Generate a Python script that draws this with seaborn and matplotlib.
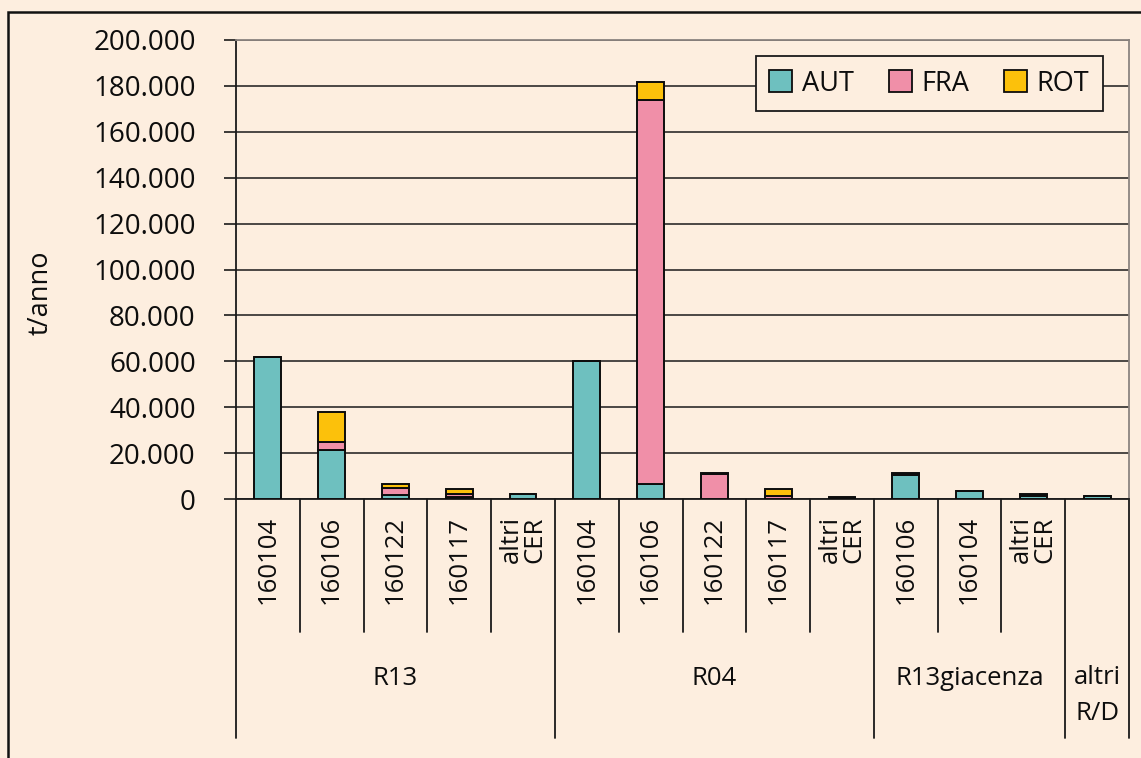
import numpy as np
import pandas as pd
import matplotlib
matplotlib.use("Agg")
import matplotlib.pyplot as plt
import seaborn as sns
from matplotlib.patches import Rectangle, Patch
from matplotlib.ticker import FuncFormatter, MultipleLocator
import matplotlib.transforms as mtransforms

# ---------------- data ----------------
groups = ["R13", "R04", "R13giacenza", "altri\nR/D"]
group_sizes = [5, 5, 3, 1]
codes = ["160104", "160106", "160122", "160117", "altri\nCER",
         "160104", "160106", "160122", "160117", "altri\nCER",
         "160106", "160104", "altri\nCER",
         ""]
series_names = ["AUT", "FRA", "ROT"]
aut = [62000, 21400, 1750, 1000, 2000, 60000, 6400, 0, 0, 300, 10500, 3600, 1400, 1300]
fra = [0, 3600, 2900, 1300, 0, 0, 167500, 10900, 1400, 200, 500, 0, 300, 0]
rot = [0, 13000, 1750, 1900, 0, 0, 7800, 600, 2800, 200, 400, 0, 300, 0]
colors = ["#6EC0BF", "#F08FA8", "#FCC10B"]

BG = "#FDEEDF"
W, H = 1141, 758
INK = "#0d0d0d"

sns.set_theme(style="white")
plt.rcParams['font.family'] = ['Open Sans', 'DejaVu Sans']
plt.rcParams['text.color'] = INK

n = len(codes)
df = pd.DataFrame({"pos": np.arange(n), "AUT": aut, "FRA": fra, "ROT": rot})
aut_a = np.array(aut, dtype=float)
fra_a = np.array(fra, dtype=float)
rot_a = np.array(rot, dtype=float)
bottoms = [np.zeros(n), aut_a, aut_a + fra_a]

fig = plt.figure(figsize=(W / 100, H / 100), dpi=100, facecolor=BG)
ax = fig.add_axes([236 / W, 1 - 499 / H, (1129 - 236) / W, (499 - 40) / H])
ax.set_facecolor(BG)

for name, bottom, col in zip(series_names, bottoms, colors):
    sns.barplot(data=df, x="pos", y=name, bottom=bottom, color=col, saturation=1,
                width=0.42, edgecolor=INK, linewidth=1.4, errorbar=None,
                ax=ax, zorder=3)

ax.set_xlim(-0.5, n - 0.5)
ax.set_ylim(0, 200000)
ax.yaxis.set_major_locator(MultipleLocator(20000))
ax.yaxis.set_major_formatter(FuncFormatter(lambda v, p: f"{int(v):,}".replace(",", ".")))
ax.set_xticks([])
ax.set_xlabel("")
ax.set_ylabel("")
ax.grid(axis="y", color="#1a1a1a", linewidth=1.1, zorder=0)
ax.set_axisbelow(True)
ax.tick_params(axis="y", left=True, length=9, width=1.2, color="#1a1a1a",
               labelsize=20, pad=20, labelcolor=INK)

for s in ["left", "bottom"]:
    ax.spines[s].set_color("#1a1a1a")
    ax.spines[s].set_linewidth(1.3)
for s in ["top", "right"]:
    ax.spines[s].set_color("#8c8480")
    ax.spines[s].set_linewidth(1.3)

# y label
fig.text(41 / W, 1 - 293 / H, "t/anno", rotation=90, ha="center", va="center", fontsize=19.5)

# hierarchical x axis
tr_lines = mtransforms.blended_transform_factory(ax.transData, ax.transAxes)
tr_text = mtransforms.blended_transform_factory(ax.transData, fig.transFigure)
y_inner = (499 - 632) / (499 - 40)
y_outer = (499 - 738) / (499 - 40)

for i, c in enumerate(codes):
    if c:
        ax.text(i, 1 - 516 / H, c, transform=tr_text, rotation=90, ha="center",
                va="top", fontsize=18.5, linespacing=0.95, multialignment="center")

start = 0
group_edges = [-0.5]
for g, size in zip(groups, group_sizes):
    for k in range(1, size):
        xb = start + k - 0.5
        ax.plot([xb, xb], [0, y_inner], transform=tr_lines, color="#1a1a1a",
                lw=1.3, clip_on=False)
    center = start + (size - 1) / 2
    if "\n" in g:
        ax.text(center, 1 - 665 / H, g, transform=tr_text, ha="center", va="top",
                fontsize=18.5, linespacing=1.6)
    else:
        ax.text(center, 1 - 666 / H, g, transform=tr_text, ha="center", va="top",
                fontsize=18.5)
    start += size
    group_edges.append(start - 0.5)

for xb in group_edges:
    ax.plot([xb, xb], [0, y_outer], transform=tr_lines, color="#1a1a1a",
            lw=1.3, clip_on=False)

# legend
handles = [Patch(facecolor=c, edgecolor=INK, linewidth=1.3, label=s)
           for s, c in zip(series_names, colors)]
leg = ax.legend(handles=handles, ncol=3, loc="upper right",
                bbox_to_anchor=((1103 - 236) / 893, (499 - 56) / 459),
                fontsize=19.5, frameon=True, fancybox=False, framealpha=1,
                facecolor=BG, edgecolor="#1a1a1a", handlelength=0.85,
                handleheight=0.85, handletextpad=0.35, columnspacing=1.3,
                borderpad=0.5, borderaxespad=0)
leg.get_frame().set_linewidth(1.3)
leg.set_zorder(5)

# outer figure border
fig.add_artist(Rectangle((8 / W, -0.2), 1.5, (1 - 12 / H) + 0.2,
                         transform=fig.transFigure, fill=False,
                         edgecolor="#111111", linewidth=1.8))

fig.savefig("out.png", dpi=100, facecolor=BG)
